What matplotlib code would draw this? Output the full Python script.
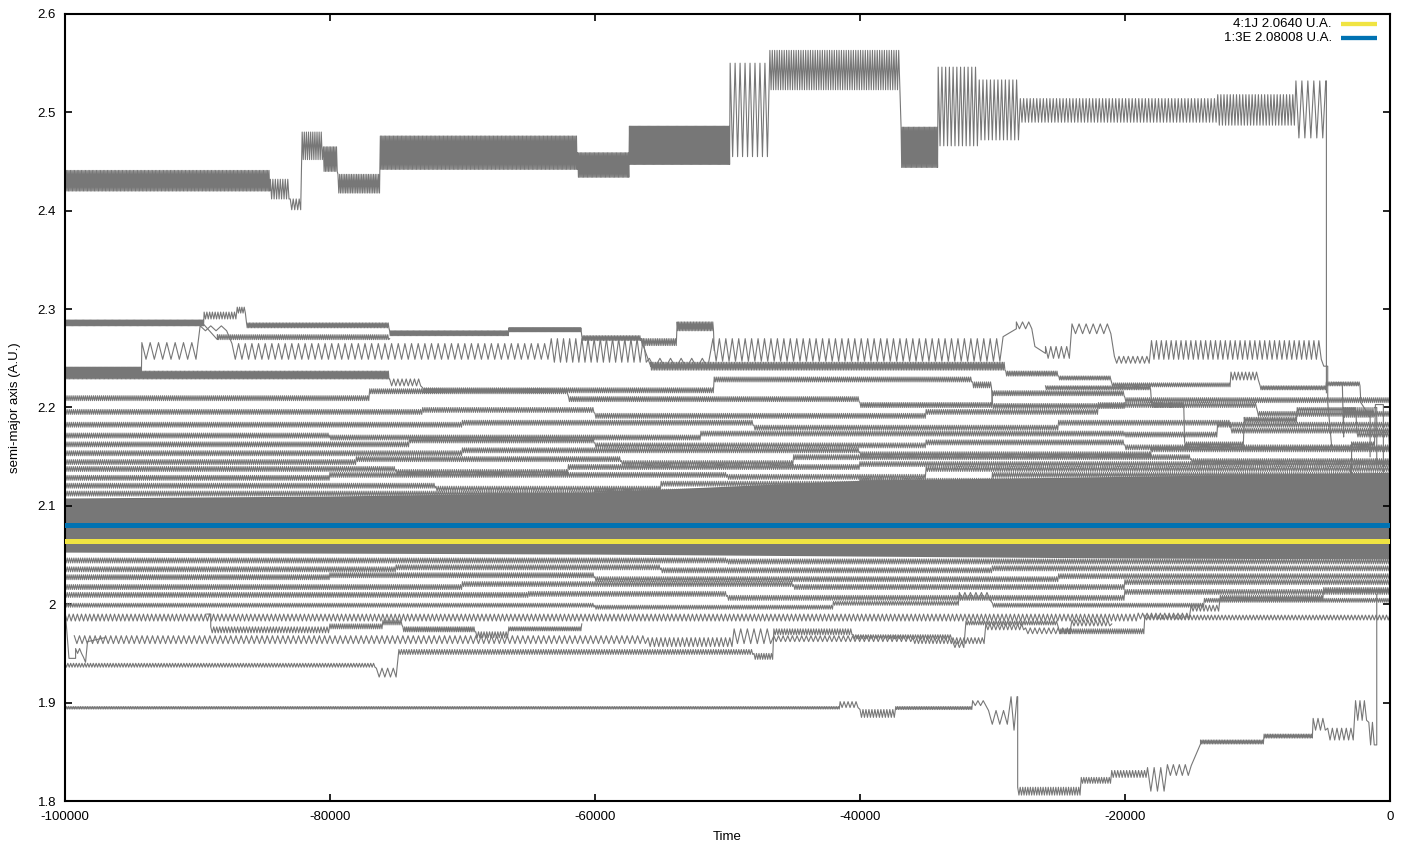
import numpy as np
import matplotlib
matplotlib.use("Agg")
import matplotlib.pyplot as plt
from matplotlib.ticker import FuncFormatter, MultipleLocator

plt.rcParams['font.family'] = ['Liberation Sans', 'DejaVu Sans']
plt.rcParams['axes.unicode_minus'] = False

GREY = '#777777'
YELLOW = '#f0e442'
BLUE = '#0072b2'

# resonance locations (A.U.)
A_4_1J = 2.0640
A_1_3E = 2.08008
res_labels = ['4:1J 2.0640 U.A.', '1:3E 2.08008 U.A.']

# clone tracks: rows of (time start, low, high, number of oscillations)
# n = 0 means a straight run from "low" at t0 to "high" at the next row
top_clone = [
    (-100000, 2.420, 2.441, 150), (-84500, 2.412, 2.432, 8),
    (-83000, 2.401, 2.412, 4), (-82100, 2.452, 2.480, 10),
    (-80500, 2.440, 2.465, 10), (-79400, 2.418, 2.437, 25),
    (-76200, 2.442, 2.476, 150), (-61300, 2.434, 2.459, 40),
    (-57400, 2.447, 2.486, 90), (-49800, 2.455, 2.550, 8),
    (-46800, 2.523, 2.563, 55), (-36900, 2.444, 2.485, 30),
    (-34100, 2.466, 2.546, 11), (-31000, 2.472, 2.533, 11),
    (-27900, 2.490, 2.514, 60), (-13000, 2.487, 2.518, 25),
    (-7100, 2.474, 2.532, 5), (-4850, 2.532, 2.532, 0),
    (-4800, 2.215, 2.215, 0),
]
bottom_clone = [
    (-100000, 1.8935, 1.8960, 450), (-41500, 1.895, 1.901, 5),
    (-40000, 1.885, 1.893, 12), (-37300, 1.893, 1.896, 45),
    (-31500, 1.897, 1.902, 3), (-30300, 1.878, 1.892, 3),
    (-28600, 1.872, 1.906, 1), (-28150, 1.906, 1.906, 0),
    (-28100, 1.806, 1.814, 25), (-23300, 1.818, 1.824, 12),
    (-21000, 1.824, 1.831, 12), (-18300, 1.810, 1.834, 3),
    (-16800, 1.826, 1.837, 4), (-15000, 1.836, 1.858, 0),
    (-14300, 1.858, 1.862, 40), (-9500, 1.864, 1.868, 30),
    (-5800, 1.872, 1.884, 3), (-4700, 1.862, 1.874, 6),
    (-2600, 1.882, 1.902, 3), (-1600, 1.857, 1.880, 2),
    (-1050, 1.857, 1.857, 0), (-1000, 2.010, 2.010, 0),
]
low_c = [
    (-100000, 1.936, 1.940, 110), (-76500, 1.926, 1.935, 4),
    (-74800, 1.949, 1.954, 140), (-48000, 1.944, 1.950, 8),
    (-46500, 1.969, 1.975, 30), (-40500, 1.965, 1.969, 40),
    (-33000, 1.956, 1.962, 3), (-32000, 1.979, 1.983, 40),
    (-25000, 1.970, 1.975, 40), (-18500, 1.984, 1.989, 70),
    (0, 1.990, 1.990, 0),
]
low_d = [
    (-99300, 1.960, 1.968, 110), (-56000, 1.957, 1.966, 20),
    (-49500, 1.960, 1.975, 6), (-46500, 1.962, 1.968, 30),
    (-36000, 1.960, 1.966, 20), (-30500, 1.974, 1.980, 10),
    (-27500, 1.970, 1.976, 10), (-24000, 1.978, 1.984, 10),
    (-21000, 1.980, 1.980, 0),
]
low_e = [
    (-100000, 1.983, 1.990, 260), (-19000, 1.985, 1.991, 12),
    (-15000, 1.993, 1.999, 8), (-12800, 2.004, 2.009, 50),
    (-5000, 2.012, 2.017, 30), (0, 2.020, 2.020, 0),
]
low_hook = [
    (-100000, 1.996, 1.945, 0), (-99700, 1.945, 1.945, 0),
    (-99200, 1.950, 1.955, 2), (-98600, 1.941, 1.946, 1),
    (-98300, 1.962, 1.966, 0), (-97000, 1.966, 1.966, 0),
]
low_g = [
    (-89300, 1.990, 1.990, 0), (-89000, 1.971, 1.977, 40),
    (-80000, 1.975, 1.980, 25), (-76000, 1.979, 1.984, 10),
    (-74500, 1.972, 1.977, 40), (-69000, 1.966, 1.972, 12),
    (-66500, 1.973, 1.977, 40), (-61000, 1.980, 1.980, 0),
]
upper_t2 = [
    (-100000, 2.283, 2.289, 120), (-89500, 2.290, 2.297, 12),
    (-87000, 2.296, 2.302, 4), (-86300, 2.281, 2.286, 100),
    (-75500, 2.273, 2.278, 100), (-66500, 2.277, 2.281, 80),
    (-61000, 2.268, 2.273, 40), (-56500, 2.263, 2.270, 20),
    (-53800, 2.278, 2.287, 25), (-51000, 2.258, 2.258, 0),
]
upper_t3 = [
    (-89500, 2.284, 2.269, 0), (-88500, 2.269, 2.274, 90),
    (-75500, 2.270, 2.270, 0),
]
upper_z1 = [
    (-100000, 2.235, 2.241, 90), (-94200, 2.249, 2.266, 7),
    (-89800, 2.278, 2.283, 3), (-87400, 2.249, 2.265, 48),
    (-63300, 2.246, 2.270, 16), (-55900, 2.240, 2.250, 6),
    (-51100, 2.247, 2.270, 45), (-29200, 2.272, 2.280, 0),
    (-28200, 2.280, 2.287, 3), (-26800, 2.262, 2.255, 0),
    (-26000, 2.250, 2.262, 5), (-24000, 2.275, 2.285, 6),
    (-20800, 2.245, 2.252, 8), (-18000, 2.249, 2.268, 35),
    (-5000, 2.242, 2.242, 0), (-4700, 2.205, 2.160, 0),
    (-4400, 2.160, 2.160, 0),
]
upper_u1 = [
    (-100000, 2.207, 2.212, 150), (-77000, 2.214, 2.219, 100),
    (-62000, 2.206, 2.211, 150), (-40000, 2.200, 2.205, 70),
    (-30000, 2.212, 2.217, 70), (-20000, 2.205, 2.210, 130),
    (0, 2.205, 2.205, 0),
]
upper_u2 = [
    (-100000, 2.229, 2.237, 250), (-75500, 2.222, 2.229, 8),
    (-73000, 2.215, 2.220, 150), (-51000, 2.226, 2.231, 130),
    (-31500, 2.220, 2.226, 10), (-30000, 2.199, 2.204, 70),
    (-20000, 2.205, 2.205, 0),
]
upper_u3 = [
    (-56500, 2.268, 2.242, 0), (-55800, 2.238, 2.246, 220),
    (-29000, 2.232, 2.237, 30), (-25000, 2.228, 2.232, 30),
    (-21000, 2.221, 2.225, 60), (-12000, 2.228, 2.236, 8),
    (-9800, 2.218, 2.222, 40), (-4800, 2.222, 2.226, 20),
    (-2200, 2.205, 2.190, 0), (-1500, 2.150, 2.150, 0),
]
right_r1 = [
    (-26000, 2.218, 2.222, 60), (-18000, 2.200, 2.205, 20),
    (-15500, 2.160, 2.165, 30), (-11000, 2.185, 2.190, 30),
    (-7000, 2.196, 2.200, 30), (-2500, 2.170, 2.175, 15),
    (0, 2.150, 2.150, 0),
]
right_r2 = [
    (-4300, 2.225, 2.225, 0), (-3600, 2.225, 2.170, 0),
    (-3500, 2.190, 2.200, 15), (-1200, 2.200, 2.200, 0),
    (-1000, 2.140, 2.140, 0),
]
right_r3 = [
    (-3000, 2.140, 2.100, 0), (-2900, 2.160, 2.165, 12),
    (-1100, 2.203, 2.203, 0), (-500, 2.120, 2.120, 0),
]

# strands bordering the crowded 2.05-2.13 AU zone
upper_strands = [
    [(-100000, 2.110, 2.115, 250), (-60000, 2.112, 2.117, 130),
     (-40000, 2.123, 2.128, 250), (0, 2.130, 2.130, 0)],
    [(-100000, 2.118, 2.123, 180), (-72000, 2.115, 2.120, 100),
     (-55000, 2.120, 2.125, 150), (-30000, 2.129, 2.134, 190),
     (0, 2.132, 2.132, 0)],
    [(-100000, 2.126, 2.131, 130), (-80000, 2.129, 2.134, 190),
     (-50000, 2.127, 2.132, 90), (-35000, 2.135, 2.140, 210),
     (0, 2.138, 2.138, 0)],
    [(-100000, 2.135, 2.140, 160), (-75000, 2.132, 2.137, 80),
     (-62000, 2.137, 2.142, 140), (-40000, 2.140, 2.145, 250),
     (0, 2.144, 2.144, 0)],
    [(-100000, 2.142, 2.147, 140), (-78000, 2.145, 2.150, 130),
     (-58000, 2.141, 2.146, 80), (-45000, 2.147, 2.152, 190),
     (-15000, 2.143, 2.148, 95), (0, 2.146, 2.146, 0)],
    [(-100000, 2.151, 2.156, 190), (-70000, 2.154, 2.159, 190),
     (-40000, 2.150, 2.155, 140), (-18000, 2.155, 2.160, 110),
     (0, 2.158, 2.158, 0)],
    [(-100000, 2.160, 2.165, 170), (-74000, 2.164, 2.169, 90),
     (-60000, 2.159, 2.164, 150), (-35000, 2.162, 2.167, 95),
     (-20000, 2.157, 2.162, 120), (0, 2.160, 2.160, 0)],
    [(-100000, 2.169, 2.174, 130), (-80000, 2.167, 2.172, 180),
     (-52000, 2.171, 2.176, 200), (-20000, 2.170, 2.175, 45),
     (-13000, 2.180, 2.185, 80), (0, 2.180, 2.180, 0)],
    [(-100000, 2.180, 2.185, 190), (-70000, 2.182, 2.187, 140),
     (-48000, 2.177, 2.182, 140), (-25000, 2.182, 2.187, 80),
     (-12000, 2.174, 2.179, 75), (0, 2.176, 2.176, 0)],
    [(-100000, 2.193, 2.198, 170), (-73000, 2.195, 2.200, 80),
     (-60000, 2.189, 2.194, 160), (-35000, 2.193, 2.198, 80),
     (-22000, 2.200, 2.205, 75), (-10000, 2.191, 2.196, 65),
     (0, 2.194, 2.194, 0)],
]
lower_strands = [
    [(-100000, 2.042, 2.047, 300), (-50000, 2.041, 2.046, 300),
     (0, 2.044, 2.044, 0)],
    [(-100000, 2.033, 2.038, 150), (-75000, 2.035, 2.040, 120),
     (-55000, 2.032, 2.037, 150), (-30000, 2.034, 2.039, 180),
     (0, 2.038, 2.038, 0)],
    [(-100000, 2.025, 2.030, 130), (-80000, 2.027, 2.032, 130),
     (-60000, 2.023, 2.028, 210), (-25000, 2.026, 2.031, 150),
     (0, 2.030, 2.030, 0)],
    [(-100000, 2.015, 2.020, 190), (-70000, 2.018, 2.023, 150),
     (-45000, 2.015, 2.020, 150), (-20000, 2.020, 2.025, 120),
     (0, 2.024, 2.024, 0)],
    [(-100000, 2.007, 2.012, 210), (-65000, 2.008, 2.013, 90),
     (-50000, 2.004, 2.009, 180), (-20000, 2.010, 2.015, 120),
     (0, 2.014, 2.014, 0)],
    [(-100000, 1.997, 2.001, 240), (-60000, 1.995, 1.999, 110),
     (-42000, 1.999, 2.003, 55), (-32500, 2.005, 2.012, 6),
     (-30000, 1.997, 2.001, 100), (-14000, 2.002, 2.006, 90),
     (0, 2.005, 2.005, 0)],
]

# envelope of the fully crowded zone
core_t = [-100000, -80000, -60000, -40000, -20000, 0]
core_lo = [2.053, 2.052, 2.051, 2.049, 2.047, 2.046]
core_hi = [2.108, 2.110, 2.114, 2.126, 2.130, 2.134]


def track(rows):
    ts, vs = [], []
    for (t0, lo, hi, n), nxt in zip(rows[:-1], rows[1:]):
        t1 = nxt[0]
        if n == 0:
            ts += [t0, t1]
            vs += [lo, hi]
        else:
            k = 2 * n
            ts += list(np.linspace(t0, t1, k, endpoint=False))
            vs += [hi if j % 2 == 0 else lo for j in range(k)]
    ts.append(rows[-1][0])
    vs.append(rows[-1][1])
    return ts, vs


fig = plt.figure(figsize=(14.08, 8.46), dpi=100)
ax = fig.add_axes([65 / 1408, 1 - 801 / 846, 1325 / 1408, 787 / 846])

ax.fill_between(core_t, core_lo, core_hi, color=GREY, lw=0)

tracks = [top_clone, bottom_clone, low_c, low_d, low_e, low_hook, low_g,
          upper_t2, upper_t3, upper_z1, upper_u1, upper_u2, upper_u3,
          right_r1, right_r2, right_r3] + upper_strands + lower_strands
for rows in tracks:
    t, a = track(rows)
    ax.plot(t, a, color=GREY, lw=0.8)

ax.axhline(A_1_3E, color=BLUE, lw=3.6, zorder=5)
ax.axhline(A_4_1J, color=YELLOW, lw=3.6, zorder=5)

# key in the top right corner: label first, colour sample after it
for i, (lab, col) in enumerate(zip(res_labels, [YELLOW, BLUE])):
    yy = (801 - 24.3 - 14 * i) / 787
    ax.plot([0.963, 0.990], [yy, yy], transform=ax.transAxes, color=col,
            lw=3.1, solid_capstyle='butt', clip_on=False, zorder=6)
    ax.text(0.956, yy, lab, transform=ax.transAxes, ha='right',
            va='center', fontsize=9.5, zorder=6)

ax.set_xlim(-100000, 0)
ax.set_ylim(1.8, 2.6)
ax.xaxis.set_major_locator(MultipleLocator(20000))
ax.yaxis.set_major_locator(MultipleLocator(0.1))
ax.yaxis.set_major_formatter(FuncFormatter(lambda v, p: '%g' % round(v, 3)))
ax.tick_params(direction='in', length=5, width=1.2, top=True, right=True,
               labelsize=9.5)
ax.tick_params(axis='x', pad=7)
ax.tick_params(axis='y', pad=6.5)
for s in ax.spines.values():
    s.set_linewidth(1.5)

ax.set_xlabel('Time', fontsize=9.5, labelpad=6)
ax.set_ylabel('semi-major axis (A.U.)', fontsize=9.5, labelpad=12)

fig.savefig('out.png', dpi=100)
